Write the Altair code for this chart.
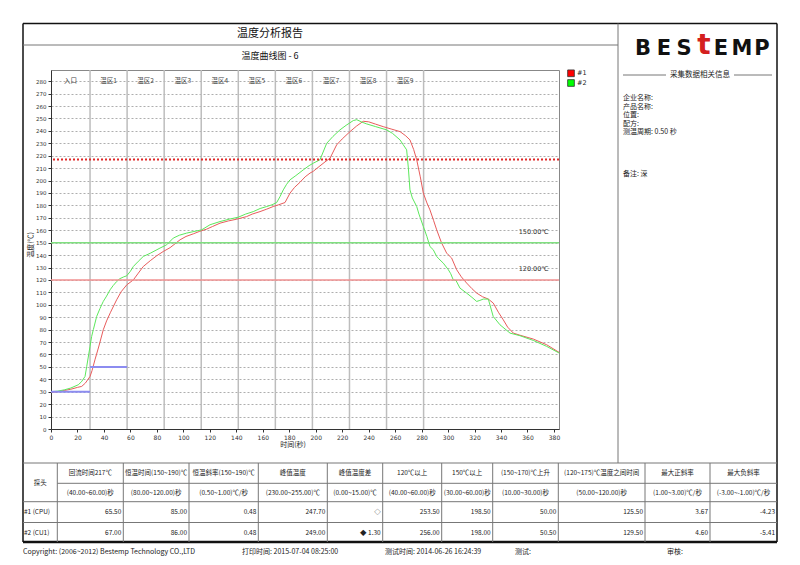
import altair as alt
import pandas as pd

# ---------------- data ----------------
g_t = [0, 5, 10, 15, 20.6, 23, 25.7, 27, 29.5, 30.7, 32, 34.5, 37, 39.5, 42, 44.6, 47, 49.6, 52, 55, 57.2,
       60, 62.2, 66, 69.7, 75, 82.3, 87.4, 92.4, 97, 102.5, 108, 113.8, 120.1, 127.7, 135, 141.5, 147,
       152.8, 158, 163, 167, 170.5, 173, 175.5, 178, 180.6, 185, 190.6, 195, 198.2, 203.2, 208.3, 213,
       218.3, 223, 228.4, 231, 235, 238.5, 245, 253.6, 258, 263.7, 266, 268.7, 270, 271.2, 273, 276.3,
       278, 281.3, 284, 286.3, 288.8, 291.4, 293, 296.4, 300.2, 302, 303.9, 306, 309, 314, 318, 321.6,
       324, 326.6, 330.4, 334.1, 339.2, 346.8, 354.3, 364.4, 374.5, 384]
g_v = [30, 30.5, 31.5, 33, 35.6, 38, 42.3, 50.4, 66.5, 74.5, 80, 90.6, 97, 102.7, 107, 112, 115.5, 118.7,
       121, 122.5, 123.3, 127, 130.8, 135, 138.9, 141.5, 145.6, 148.3, 153.7, 156, 157.7, 159, 160.3,
       164.4, 167, 169, 170.5, 173, 175, 177.5, 179.1, 180.5, 182.3, 187, 192.5, 197, 200.6, 204, 208.6,
       212, 214, 216.7, 230, 235.5, 240.8, 244.5, 248.3, 249.0, 247, 245.6, 243.5, 240.8, 238, 232.7,
       229, 224.7, 210, 192.5, 186, 179.1, 173, 163, 155, 146.9, 144.3, 138.9, 137, 133.5, 128.2, 125,
       120.1, 119.5, 113.4, 109.4, 106, 102.7, 103.5, 104.6, 104.6, 90.6, 83.9, 77.2, 75.1, 71.3, 66.5,
       61.1]

r_t = [0, 5, 10, 15, 20, 23.2, 26, 29.5, 31, 33.2, 36, 39.5, 42, 45, 49.6, 53, 57.2, 62.2, 66, 69.7, 75,
       79.8, 84.8, 90, 97.5, 102, 107.5, 112, 117.6, 122, 127.7, 134, 140.3, 147.8, 152, 157.9, 163,
       167.9, 172, 176.8, 180.6, 184, 188.1, 192, 195.7, 198.2, 203.2, 207, 210.8, 215.8, 220, 225.9, 231,
       235.9, 240, 245, 251, 257, 263.7, 268, 271.2, 274, 276.3, 279, 281.3, 284, 286.3, 289, 291.4, 295,
       298.9, 300.2, 302.7, 306.5, 310, 314, 318, 321.6, 326, 330.4, 334.1, 338, 341.7, 345, 349.3, 354.3,
       364.4, 374.5, 384]
r_v = [29.5, 30, 31, 32, 33.5, 34.3, 37, 42.3, 47, 55.7, 66, 79.9, 87, 94, 104, 110.5, 116, 120, 125.5,
       130.8, 135.5, 139.4, 142.9, 146, 152.3, 155, 157.1, 159, 160.9, 163, 165.7, 167.5, 168.9, 171, 173,
       175, 177, 179.1, 180.5, 182.3, 189.9, 194.5, 198.6, 203, 206, 207.5, 211.8, 215, 218, 228.7, 233.5,
       239.4, 244, 247.7, 247.3, 245.5, 243.4, 241.5, 239.4, 236, 232.7, 225, 216.7, 203, 189.9, 182,
       176.4, 168, 160.3, 150, 141.6, 140.2, 137.6, 128.2, 122.5, 117.5, 113, 109.4, 106.5, 104.6, 101.4,
       94, 87.9, 82, 77.2, 75.5, 72.4, 67.8, 61.6]

series_names = ["#1", "#2"]
series_colors = ["#e85c5c", "#5ce85c"]

zone_bounds = [29.5, 57.5, 85.5, 113.5, 141.5, 169.5, 197.5, 225.5, 253.5, 281.5]
zone_names = ["入口", "温区1", "温区2", "温区3", "温区4", "温区5", "温区6", "温区7", "温区8", "温区9"]

seg_start = [0, 29.5]
seg_end = [29.5, 57.5]
seg_level = [30, 50]

ref_peak = 217
ref_150 = 150
ref_120 = 120

x_ticks = list(range(0, 381, 20))
y_ticks = list(range(0, 281, 10))

hdr1 = ["回流时间217℃", "恒温时间(150~190)℃", "恒温斜率(150~190)℃", "峰值温度", "峰值温度差",
        "120℃以上", "150℃以上", "(150~170)℃上升", "(120~175)℃温度之间时间", "最大正斜率", "最大负斜率"]
hdr2 = ["(40.00~60.00)秒", "(80.00~120.00)秒", "(0.50~1.00)℃/秒", "(230.00~255.00)℃", "(0.00~15.00)℃",
        "(40.00~60.00)秒", "(30.00~60.00)秒", "(10.00~30.00)秒", "(50.00~120.00)秒", "(1.00~3.00)℃/秒",
        "(-3.00~-1.00)℃/秒"]
row_names = ["#1 (CPU)", "#2 (CU1)"]
row1 = ["65.50", "85.00", "0.48", "247.70", "◇", "253.50", "198.50", "50.00", "125.50", "3.67", "-4.23"]
row2 = ["67.00", "86.00", "0.48", "249.00", "◆ 1.30", "256.00", "198.00", "50.50", "129.50", "4.60", "-5.41"]

info_lines = ["企业名称:", "产品名称:", "位置:", "配方:", "测温周期: 0.50 秒"]
note_line = "备注: 深"
footer = ["Copyright: (2006~2012) Bestemp Technology CO.,LTD", "打印时间: 2015-07-04 08:25:00",
          "测试时间: 2014-06-26 16:24:39", "测试:", "审核:"]

# ---------------- layout helpers (page px -> chart px) ----------------
OX, OY = 51, 70
W, H = 508, 359
def cx(p): return p - OX
def cy(p): return p - OY

CJK = "Noto Sans CJK SC"

xs = alt.Scale(domain=[0, 383.8], nice=False, zero=False)
ys = alt.Scale(domain=[0, 289], nice=False, zero=False)
x_axis = alt.Axis(values=x_ticks, grid=False, title=None,
                  labelFontSize=6, labelColor="#333", tickSize=3, tickColor="#333",
                  domainColor="#333", labelFont="DejaVu Sans", labelPadding=2,
                  labelOverlap=False, labelFlush=False)
y_axis = alt.Axis(values=y_ticks, grid=True, gridDash=[2, 2],
                  gridColor="#999", gridWidth=0.8, title=None, labelFontSize=5.5,
                  labelColor="#333", tickSize=3, tickColor="#333", domainColor="#333",
                  labelFont="DejaVu Sans", labelPadding=2, labelOverlap=False, labelFlush=False)
X = lambda: alt.X("t:Q", scale=xs, axis=x_axis)
Y = lambda: alt.Y("v:Q", scale=ys, axis=y_axis)

df_lines = pd.concat([
    pd.DataFrame({"t": r_t, "v": r_v, "s": series_names[0]}),
    pd.DataFrame({"t": g_t, "v": g_v, "s": series_names[1]}),
])
lines = alt.Chart(df_lines).mark_line(strokeWidth=1).encode(
    x=X(), y=Y(),
    color=alt.Color("s:N", scale=alt.Scale(domain=series_names, range=series_colors), legend=None),
    order="t:Q")

zones = alt.Chart(pd.DataFrame({"t": zone_bounds})).mark_rule(color="#bdbdbd", strokeWidth=1.5).encode(
    x=X())

mids = [b / 2 if i == 0 else (zone_bounds[i - 1] + zone_bounds[i]) / 2 for i, b in enumerate(zone_bounds)]
zone_txt = alt.Chart(pd.DataFrame({"t": mids, "v": [280] * 10, "n": zone_names})).mark_text(
    fontSize=6.5, font=CJK, color="#444").encode(x=X(), y=Y(), text="n:N")

segs = alt.Chart(pd.DataFrame({"t": seg_start, "t2": seg_end, "v": seg_level})).mark_rule(
    color="#8c8cf0", strokeWidth=2).encode(x=X(), x2="t2:Q", y=Y())

r217 = alt.Chart(pd.DataFrame({"v": [ref_peak]})).mark_rule(color="#e02828", strokeWidth=2, strokeDash=[2, 2]).encode(
    y=Y())
r150 = alt.Chart(pd.DataFrame({"v": [ref_150]})).mark_rule(color="#80e080", strokeWidth=1.5).encode(y=Y())
r120 = alt.Chart(pd.DataFrame({"v": [ref_120]})).mark_rule(color="#f09090", strokeWidth=1.5).encode(y=Y())
ref_lbl = alt.Chart(pd.DataFrame({"t": [376, 376], "v": [ref_150 + 8.5, ref_120 + 9],
                                  "s": [f"{ref_150:.2f}℃", f"{ref_120:.2f}℃"]})).mark_text(
    align="right", fontSize=6.5, font="DejaVu Sans", color="#333").encode(x=X(), y=Y(), text="s:N")

# ---------------- decorations ----------------
PX = lambda f: alt.X(f, scale=None, axis=None)
PY = lambda f: alt.Y(f, scale=None, axis=None)

def rules(segs_list, color, width):
    df = pd.DataFrame(segs_list, columns=["x", "x2", "y", "y2"])
    return alt.Chart(df).mark_rule(color=color, strokeWidth=width).encode(
        x=PX("x:Q"), x2="x2:Q", y=PY("y:Q"), y2="y2:Q")

def texts(items, align="center", size=7.0, color="#222", font=CJK, weight="normal", angle=0):
    df = pd.DataFrame(items, columns=["x", "y", "s"])
    return alt.Chart(df).mark_text(align=align, baseline="middle", fontSize=size, font=font, color=color,
                                   fontWeight=weight, angle=angle).encode(x=PX("x:Q"), y=PY("y:Q"), text="s:N")

L, R, T, B = cx(23), cx(777), cy(23.5), cy(542)
DIV = cx(618)
TT = cy(463)
edges = [23, 57.3, 123.3, 189, 258.3, 327.3, 382.7, 441.7, 492.7, 558.3, 645, 710, 777]
E = [cx(e) for e in edges]

frame = rules([[L, R, T, T], [L, L, T, B], [R, R, T, B]], "#111", 1.5)
bottom = rules([[L, R, B, B]], "#111", 2.5)
thin = rules([[L, DIV, cy(45), cy(45)], [DIV, DIV, T, TT], [L, R, TT, TT],
              [E[1], R, cy(483.3), cy(483.3)], [L, R, cy(501.7), cy(501.7)], [L, R, cy(522.5), cy(522.5)],
              [cx(623), cx(666), cy(75), cy(75)], [cx(734), cx(772), cy(75), cy(75)]]
             + [[e, e, TT, B] for e in E[1:-1]], "#777", 1)

titles = texts([[cx(270), cy(34), "温度分析报告"]], size=11, color="#111")
subtitle = texts([[cx(270), cy(56), "温度曲线图 - 6"]], size=9, color="#111")

logo_chars = ["B", "E", "S", "E", "M", "P"]
logo_x = [643, 664, 684, 721, 742, 762]
logo = texts([[cx(x), cy(49), c] for x, c in zip(logo_x, logo_chars)], size=21, color="#111",
             font="DejaVu Sans", weight="bold")
logo_t = texts([[cx(704), cy(46), "t"]], size=28, color="#d42020", font="DejaVu Sans", weight="bold")

info = texts([[cx(700), cy(75), "采集数据相关信息"]], size=7.5)
info2 = texts([[cx(623), cy(98 + 8.5 * i), s] for i, s in enumerate(info_lines)]
              + [[cx(623), cy(174), note_line]], align="left", size=7)

legend_sq = alt.Chart(pd.DataFrame({"s": series_names, "y": [cy(73.3), cy(83)]})).mark_square(
    size=45, stroke="#333", strokeWidth=0.8, opacity=1).encode(
    x=alt.value(cx(571)), y=PY("y:Q"),
    fill=alt.Fill("s:N", scale=alt.Scale(domain=series_names, range=["#ff0000", "#00ff00"]), legend=None))
legend_tx = texts([[cx(577), cy(73.3), series_names[0]], [cx(577), cy(83), series_names[1]]],
                  align="left", size=6.5, font="DejaVu Sans")

ax_titles = texts([[cx(31), cy(245), "温度(℃)"]], size=7, angle=270)
ax_titles2 = texts([[cx(293), cy(445), "时间(秒)"]], size=7)

mid = [(E[i] + E[i + 1]) / 2 for i in range(len(E) - 1)]
hdr = texts([[mid[0], cy(483), "探头"]]
            + [[mid[i + 1], cy(473), s] for i, s in enumerate(hdr1)]
            + [[mid[i + 1], cy(492.5), s] for i, s in enumerate(hdr2)], size=6.5)
rowname = texts([[cx(24), cy(512), row_names[0]], [cx(24), cy(532.5), row_names[1]]], align="left", size=6.5)
vals = texts([[E[i + 2] - 2, cy(512), s] for i, s in enumerate(row1)]
             + [[E[i + 2] - 2, cy(532.5), s] for i, s in enumerate(row2)], align="right", size=6.5)

foot_x = [23, 242, 385, 515, 667]
foot = texts([[cx(x), cy(552), s] for x, s in zip(foot_x, footer)], align="left", size=7)

chart = alt.layer(
    zones, lines, segs, r217, r150, r120, ref_lbl, zone_txt,
    frame, bottom, thin, titles, subtitle, logo, logo_t, info, info2, legend_sq, legend_tx,
    ax_titles, ax_titles2, hdr, rowname, vals, foot
).properties(
    width=W, height=H,
    autosize=alt.AutoSizeParams(type="none"),
    padding={"left": OX - 8, "top": OY - 8, "right": 780 - (OX - 8) - W, "bottom": 548 - (OY - 8) - H},
    background="white",
).configure_view(stroke="#888", strokeWidth=1)

chart.save("out.html", embed_options={"renderer": "svg", "actions": False})
